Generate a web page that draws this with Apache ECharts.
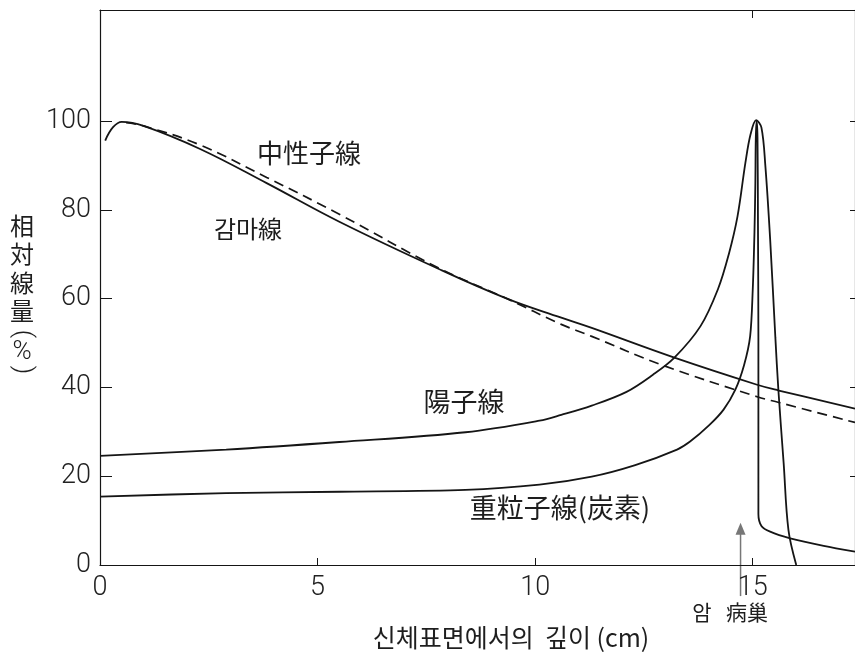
<!DOCTYPE html>
<html>
<head>
<meta charset="utf-8">
<script src="https://cdn.jsdelivr.net/npm/echarts@6/dist/echarts.min.js"></script>
<style>html,body{margin:0;padding:0;background:#fff}#c{width:855px;height:654px}</style>
</head>
<body>
<div id="c"></div>
<script>
// ---- data (depth cm, relative dose %) ----
const xTicks = [0, 5, 10, 15];
const yTicks = [0, 20, 40, 60, 80, 100];
const gamma = [[0.12,95.6],[0.3,98.6],[0.5,99.8],[1.0,98.9],[2.3,93.7],[3.83,86],[5.5,77.3],[7.8,66.6],[9.35,60],[10.6,55.7],[11.3,53.4],[13.2,46.7],[15.1,40.6],[15.6,39.3],[17.35,35.2]];
const neutron = [[0.6,99.6],[1.0,98.9],[2.3,94.6],[3.83,87.3],[5.5,79],[7.8,66.8],[9.35,60],[10.6,54.2],[11.3,51.5],[12.9,45.1],[15.1,37.9],[15.6,36.6],[17.35,32.1]];
const proton = [[0,24.6],[2.9,26],[5.5,27.7],[8.4,29.9],[10.1,32.5],[10.6,33.8],[11.3,35.9],[12.1,39],[12.7,42.8],[13.2,46.7],[13.8,53.8],[14.2,62.1],[14.45,70],[14.65,78.5],[14.83,90.5],[14.95,97],[15.08,100.2],[15.2,98.5],[15.29,89.9],[15.4,73.4],[15.52,51.2],[15.59,39.3],[15.71,23],[15.82,7.9],[16.0,0]];
const carbon = [[0,15.4],[2.9,16.2],[5.5,16.5],[8.4,16.9],[10.1,18.1],[11.3,19.9],[12.3,22.5],[13.26,26],[13.56,27.8],[14.0,31.5],[14.33,35],[14.6,39.5],[14.8,45],[14.94,51.5],[15.0,62],[15.04,75],[15.06,86],[15.07,96],[15.09,100],[15.11,96],[15.12,77],[15.13,51.2],[15.13,26.7],[15.13,11.5],[15.2,8.8],[15.4,7.5],[15.86,6.0],[16.63,4.3],[17.35,3.0]];
const arrowX = 14.72, arrowFrom = -7, arrowTo = 9.5;

const chart = echarts.init(document.getElementById('c'), null, {renderer: 'canvas'});
const ink = '#151515';
const tickFont = {fontFamily: 'Roboto', fontWeight: 300, fontSize: 27, color: '#222'};
const option = {
  animation: false,
  backgroundColor: '#fff',
  grid: {left: 100, right: 0, top: 10, bottom: 89},
  xAxis: [{
    type: 'value', min: 0, max: 17.35, interval: 5,
    axisLine: {show: true, lineStyle: {color: ink, width: 1.2}},
    axisTick: {show: true, inside: true, length: 7, customValues: [5, 10, 15], lineStyle: {color: ink}},
    axisLabel: Object.assign({margin: 10, customValues: xTicks}, tickFont),
    splitLine: {show: false}
  }, {
    type: 'value', position: 'top', min: 0, max: 17.35,
    axisLine: {show: true, onZero: false, lineStyle: {color: ink, width: 1.2}},
    axisTick: {show: true, inside: true, length: 8, customValues: [15], lineStyle: {color: ink}},
    axisLabel: {show: false}, splitLine: {show: false}
  }],
  yAxis: [{
    type: 'value', min: 0, max: 125,
    axisLine: {show: true, lineStyle: {color: ink, width: 1.2}},
    axisTick: {show: true, inside: true, length: 12, customValues: [20, 40, 60, 80, 100], lineStyle: {color: ink}},
    axisLabel: Object.assign({margin: 9, customValues: yTicks}, tickFont),
    splitLine: {show: false}
  }, {
    type: 'value', position: 'right', min: 0, max: 125,
    axisLine: {show: true, onZero: false, lineStyle: {color: ink, width: 1.2}},
    axisTick: {show: true, inside: true, length: 5, customValues: [20, 40, 60, 80, 100], lineStyle: {color: ink}},
    axisLabel: {show: false}, splitLine: {show: false}
  }],
  series: [
    {name: '감마線', type: 'line', data: gamma, smooth: 0.4, symbol: 'none', lineStyle: {color: ink, width: 1.8}},
    {name: '中性子線', type: 'line', data: neutron, smooth: 0.4, symbol: 'none', lineStyle: {color: ink, width: 1.7, type: [10, 6]}},
    {name: '陽子線', type: 'line', data: proton, smooth: 0.35, symbol: 'none', lineStyle: {color: ink, width: 1.8}},
    {name: '重粒子線(炭素)', type: 'line', data: carbon, smooth: 0.3, symbol: 'none', lineStyle: {color: ink, width: 1.8}}
  ]
};
chart.setOption(option);

const cjk = '"Noto Sans CJK KR", "Noto Sans CJK JP", sans-serif';
function txt(text, x, y, size, fam, rot) {
  return {type: 'text', x: x, y: y, rotation: rot || 0, originX: 0, originY: 0, silent: true,
    style: {text: text, fontSize: size, fontFamily: fam || cjk, fontWeight: fam ? 300 : 'normal', fill: '#1e1e1e', textAlign: 'center', textVerticalAlign: 'middle'}};
}
const p1 = chart.convertToPixel({gridIndex: 0}, [arrowX, arrowFrom]);
const p2 = chart.convertToPixel({gridIndex: 0}, [arrowX, arrowTo]);
const g = [
  txt('中性子線', 309, 153, 26),
  txt('감마線', 248, 229, 24),
  txt('陽子線', 464, 402, 27),
  txt('重粒子線(炭素)', 560, 508, 27),
  txt('암', 702, 612, 21),
  txt('病巢', 747, 612, 21),
  txt('신체표면에서의  깊이 (cm)', 511, 637, 25),
  txt('相', 22, 226, 24),
  txt('対', 22, 254, 24),
  txt('線', 22, 283, 24),
  txt('量', 22, 311, 24),
  txt('(', 22, 334, 26, 'Roboto', -Math.PI / 2),
  txt('%', 22, 352, 26, 'Roboto'),
  txt(')', 22, 370, 26, 'Roboto', -Math.PI / 2),
  {type: 'line', silent: true, shape: {x1: p1[0], y1: p1[1], x2: p2[0], y2: p2[1] + 10}, style: {stroke: '#777', lineWidth: 1.5}},
  {type: 'polygon', silent: true, shape: {points: [[p2[0], p2[1]], [p2[0] - 5, p2[1] + 12], [p2[0] + 5, p2[1] + 12]]}, style: {fill: '#777'}}
];
chart.setOption({graphic: g});
</script>
</body>
</html>
